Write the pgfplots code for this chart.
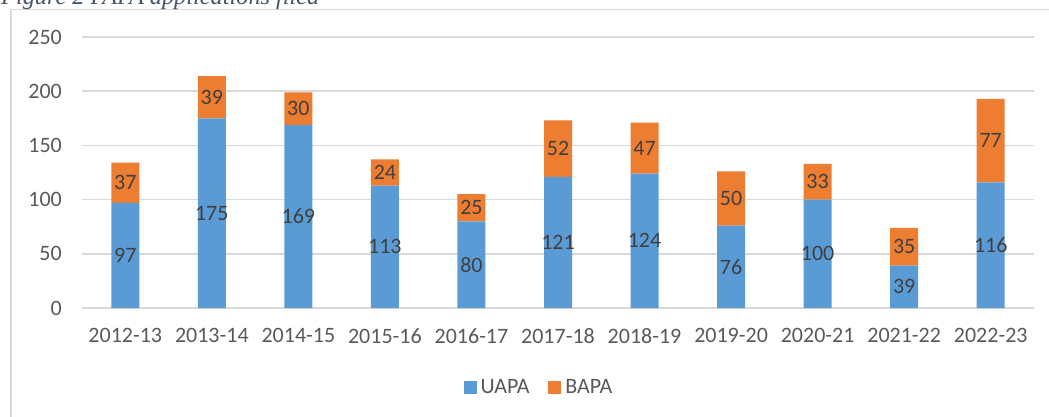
\documentclass[border=0pt]{standalone}
\usepackage{pgfplots}
\pgfplotsset{compat=1.18}
\usepackage{pgfplotstable}
\usepackage{fontspec}
\setmainfont{Carlito}
\newfontfamily\capfont{Liberation Serif}
\definecolor{uapa}{HTML}{5B9BD5}
\definecolor{bapa}{HTML}{ED7D31}
\definecolor{txt}{HTML}{595959}
\definecolor{lbl}{HTML}{404040}
\definecolor{gridc}{HTML}{D9D9D9}
\definecolor{cap}{HTML}{44546A}
\pgfplotstableread{
x uapa bapa
0 97 37
1 175 39
2 169 30
3 113 24
4 80 25
5 121 52
6 124 47
7 76 50
8 100 33
9 39 35
10 116 77
}\datatable
\begin{document}
\begin{tikzpicture}[x=1pt,y=1pt]
\useasboundingbox (0,0) rectangle (1049,416);
\clip (0,0) rectangle (1049,416);
\draw[gridc, line width=1.5pt] (11,-5) -- (11,406.5) -- (1060,406.5);
\node[anchor=base west, inner sep=0pt, text=cap] at (1,411)
  {\fontsize{24.3}{28}\selectfont\capfont\itshape Figure 2 PAPA applications filed};
\begin{axis}[
  at={(82pt,108pt)}, anchor=south west,
  scale only axis, width=952pt, height=271pt,
  xmin=-0.5, xmax=10.5, ymin=0, ymax=250,
  ybar stacked, bar width=28pt,
  font=\fontsize{22}{26}\selectfont,
  /pgf/number format/assume math mode=true,
  axis line style={draw=none},
  ymajorgrids, grid style={gridc, line width=1.5pt},
  major tick length=0pt,
  ytick={0,50,...,250},
  yticklabel style={anchor=east, inner sep=0pt, xshift=-20pt, text=txt},
  xtick=data,
  xticklabels={2012-13,2013-14,2014-15,2015-16,2016-17,2017-18,2018-19,2019-20,2020-21,2021-22,2022-23},
  xticklabel style={anchor=north, inner sep=0pt, yshift=-20pt, text=txt},
  legend columns=2,
  legend style={draw=none, at={(0.479,-0.2915)}, anchor=center,
    /tikz/every odd column/.append style={column sep=4pt},
    /tikz/every even column/.append style={column sep=19pt},
    text=txt, inner sep=0pt,
    nodes={inner sep=0pt, anchor=west}},
  legend image code/.code={\fill[#1] (0pt,-6.5pt) rectangle (13pt,6.5pt);},
  nodes near coords, point meta=explicit,
  every node near coord/.style={anchor=center, inner sep=0pt, text=lbl,
    /pgf/number format/assume math mode=true},
]
\addplot[fill=uapa, draw=none] table[x=x, y=uapa, meta=uapa] {\datatable};
\addlegendentry{UAPA}
\addplot[fill=bapa, draw=none] table[x=x, y=bapa, meta=bapa] {\datatable};
\addlegendentry{BAPA}
\end{axis}
\end{tikzpicture}
\end{document}
